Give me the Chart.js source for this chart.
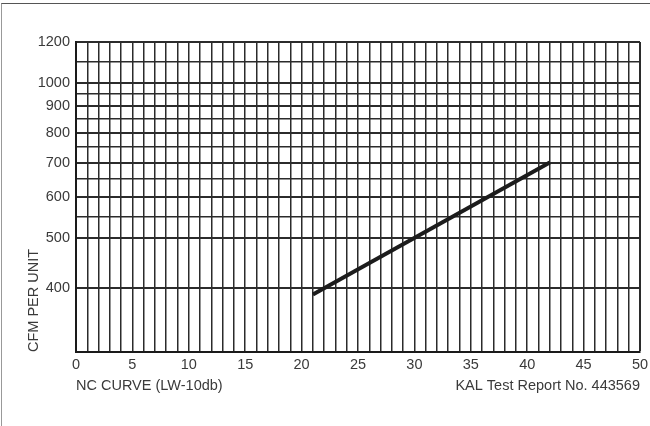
<!DOCTYPE html>
<html>
<head>
<meta charset="utf-8">
<script src="https://cdn.jsdelivr.net/npm/chart.js@4"></script>
<style>
  html, body { margin: 0; padding: 0; background: #fff; }
  #wrap { position: relative; width: 650px; height: 426px; overflow: hidden; }
  #frame { position: absolute; left: 1px; top: 3px; width: 700px; height: 500px;
           border-top: 1px solid #555; border-left: 1px solid #999; }
  canvas { position: absolute; left: 0; top: 0; }
</style>
</head>
<body>
<div id="wrap">
  <div id="frame"></div>
  <canvas id="chart" width="650" height="426"></canvas>
</div>
<script>
// NC curve vs CFM per unit
const ncValues = [21, 42];
const cfmValues = [388, 700];

const xLabelTicks = [0, 5, 10, 15, 20, 25, 30, 35, 40, 45, 50];
const yLabelTicks = [400, 500, 600, 700, 800, 900, 1000, 1200];
const yMinorLines = [550, 650, 750, 850, 950, 1100];

const fontFamily = "'Liberation Sans', Arial, sans-serif";
const fontSize = 14.5;
const textColor = '#3a3a3a';
const gridColor = '#2b2b2b';

const reportNote = {
  id: 'reportNote',
  afterDraw(chart) {
    const c = chart.ctx;
    const x = chart.scales.x;
    c.save();
    c.font = fontSize + 'px ' + fontFamily;
    c.fillStyle = textColor;
    c.textAlign = 'right';
    c.textBaseline = 'middle';
    c.fillText('KAL Test Report No. 443569', chart.chartArea.right, x.bottom - fontSize * 0.6 - 11);
    c.restore();
  }
};

const ctx = document.getElementById('chart');

new Chart(ctx, {
  type: 'line',
  data: {
    datasets: [{
      data: ncValues.map((v, i) => ({x: v, y: cfmValues[i]})),
      borderColor: '#1c1c1c',
      borderWidth: 4,
      borderCapStyle: 'butt',
      pointRadius: 0,
      fill: false
    }]
  },
  options: {
    responsive: false,
    animation: false,
    layout: { padding: { left: 16, top: 42, right: 0, bottom: 20 } },
    plugins: { legend: { display: false }, tooltip: { enabled: false } },
    scales: {
      x: {
        type: 'linear',
        min: 0,
        max: 50,
        afterFit: s => { s.height = 54; s.paddingRight = 10; },
        ticks: {
          stepSize: 1,
          autoSkip: false,
          maxRotation: 0,
          padding: 4,
          color: textColor,
          font: { family: fontFamily, size: fontSize },
          callback: v => xLabelTicks.includes(v) ? String(v) : ''
        },
        grid: {
          drawTicks: false,
          color: gridColor,
          lineWidth: c => c.tick && c.tick.value === 50 ? 2 : 1.5
        },
        border: { display: true, color: '#1a1a1a', width: 2 },
        title: {
          display: true,
          text: 'NC CURVE (LW-10db)',
          align: 'start',
          color: textColor,
          font: { family: fontFamily, size: fontSize },
          padding: { top: 0, bottom: 11 }
        }
      },
      y: {
        type: 'logarithmic',
        min: 300,
        max: 1200,
        afterFit: s => { s.width = 60; },
        afterBuildTicks: s => {
          s.ticks = [...yLabelTicks, ...yMinorLines].sort((a, b) => a - b).map(v => ({value: v}));
        },
        ticks: {
          autoSkip: false,
          padding: 6,
          color: textColor,
          font: { family: fontFamily, size: fontSize },
          callback: v => yLabelTicks.includes(v) ? String(v) : ''
        },
        grid: {
          drawTicks: false,
          color: gridColor,
          lineWidth: c => {
            if (!c.tick) return 1.5;
            return yLabelTicks.includes(c.tick.value) ? 2 : 1.5;
          }
        },
        border: { display: true, color: '#1a1a1a', width: 2 },
        title: {
          display: true,
          text: 'CFM PER UNIT',
          align: 'start',
          color: textColor,
          font: { family: fontFamily, size: fontSize },
          padding: { top: 9, bottom: 0 }
        }
      }
    }
  },
  plugins: [reportNote]
});
</script>
</body>
</html>
